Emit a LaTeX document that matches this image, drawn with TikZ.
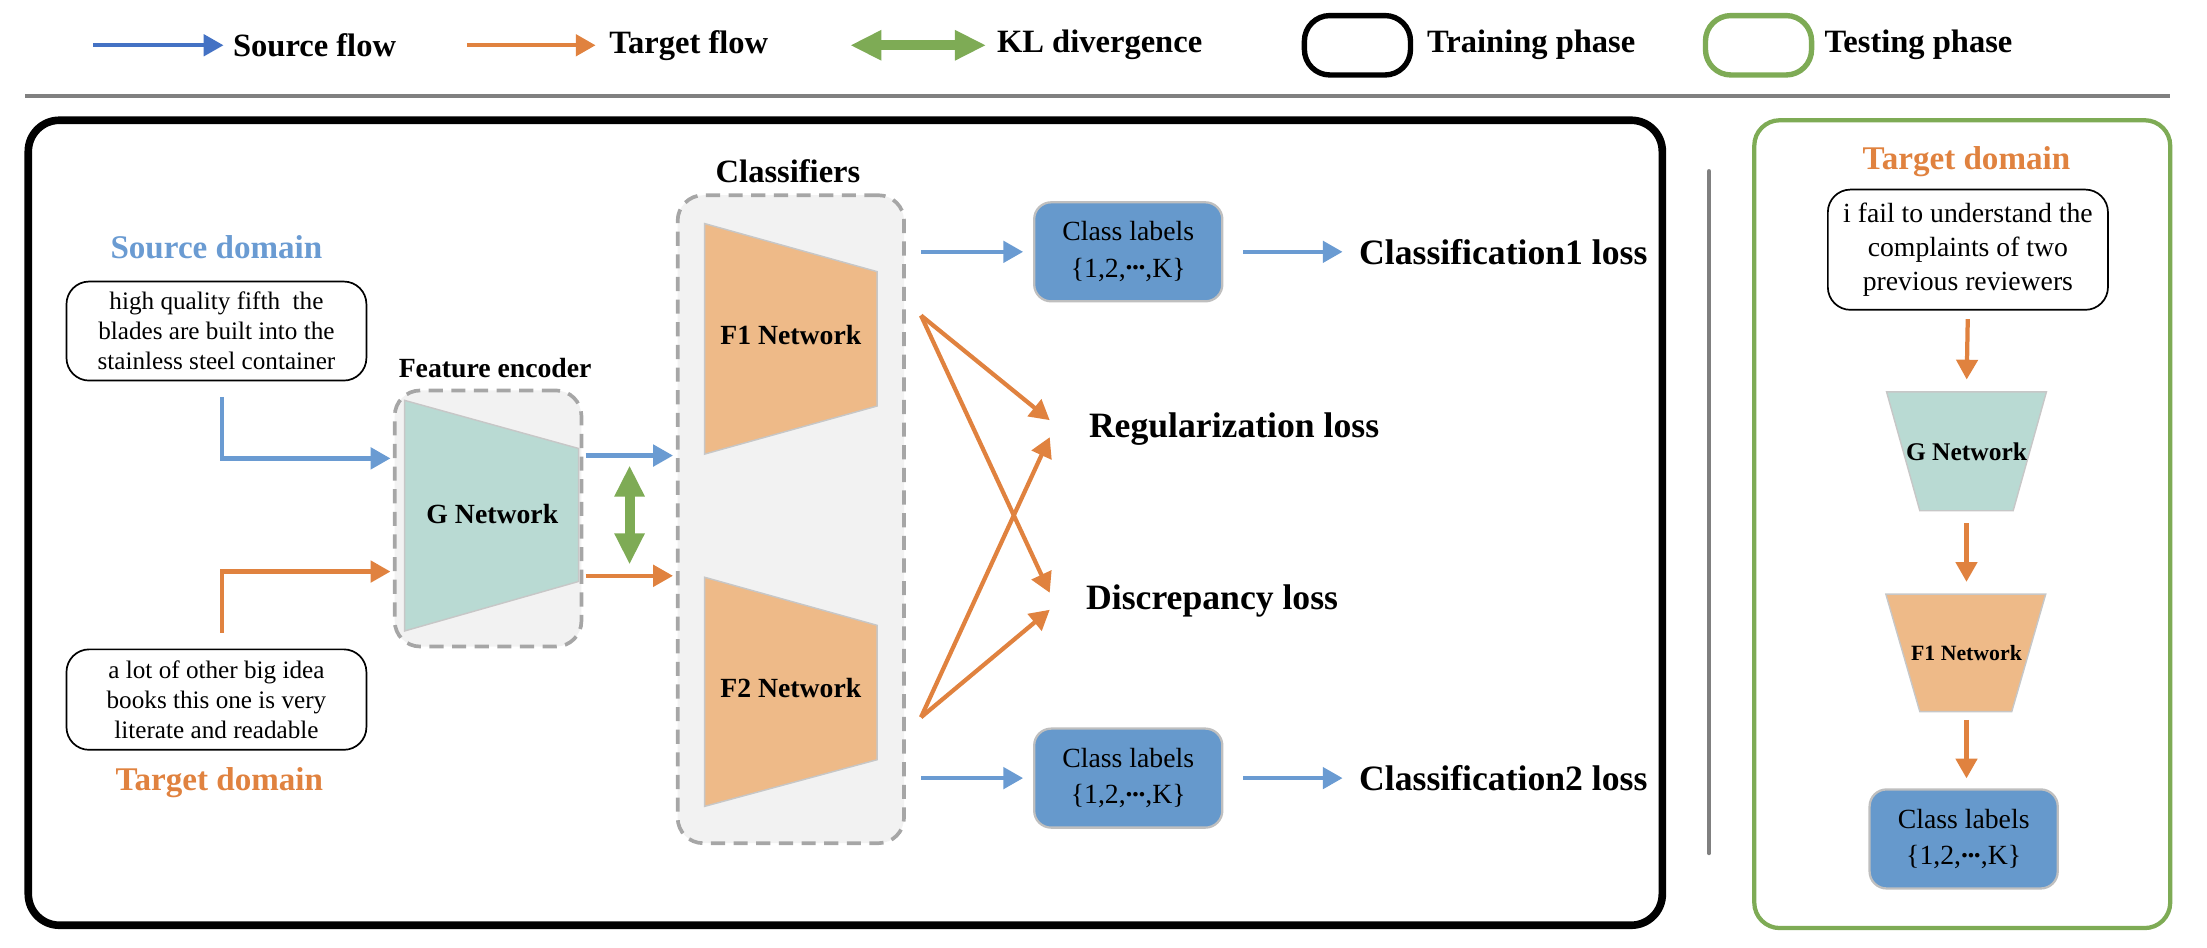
\documentclass[tikz,border=0pt]{standalone}
\usepackage{fontspec}
\setmainfont{Liberation Serif}
\usetikzlibrary{arrows.meta,positioning}

\definecolor{srcblue}{HTML}{6A9BD2}
\definecolor{legblue}{HTML}{4472C4}
\definecolor{tgtorange}{HTML}{E0823F}
\definecolor{klgreen}{HTML}{7EAB55}
\definecolor{gteal}{HTML}{B9DAD3}
\definecolor{fpeach}{HTML}{EEBA88}
\definecolor{labblue}{HTML}{6699CC}
\definecolor{encgray}{HTML}{F2F2F2}
\definecolor{dashgray}{HTML}{A6A6A6}

\newcommand{\labdots}{\raisebox{0.28em}{\bfseries .\kern-0.02em.\kern-0.02em.}}

\tikzset{every picture/.style={line width=0.75pt}}
\tikzset{
  srcflow/.style={srcblue, line width=1.5pt, -{Triangle[length=7pt,width=7.5pt]}},
  legsrc/.style={legblue, line width=1.4pt, -{Triangle[length=7pt,width=7.5pt]}},
  tgtflow/.style={tgtorange, line width=1.5pt, -{Triangle[length=7pt,width=7.5pt]}},
  klflow/.style={klgreen, line width=3.5pt, {Triangle[length=11pt,width=10pt]}-{Triangle[length=11pt,width=10pt]}},
  legtext/.style={font=\bfseries\fontsize{11.5}{13}\selectfont, anchor=west, inner sep=0pt},
  losstext/.style={font=\bfseries\fontsize{12.6}{14}\selectfont, anchor=west, inner sep=0pt},
  domtitle/.style={font=\bfseries\fontsize{11.7}{13}\selectfont, inner sep=0pt},
  grouptitle/.style={font=\bfseries\fontsize{9.8}{11}\selectfont, inner sep=0pt},
  netlab/.style={font=\bfseries\fontsize{9.8}{11}\selectfont, inner sep=0pt},
  textbox/.style={draw, rounded corners=8pt, line width=0.6pt, align=center, inner sep=0pt, font=\fontsize{8.9}{10.6}\selectfont},
  labbox/.style={draw=black!25, fill=labblue, rounded corners=6pt, line width=0.8pt, align=center, inner sep=0pt, minimum width=66.5pt, minimum height=35pt, font=\fontsize{9.8}{13}\selectfont},
  groupbox/.style={draw=dashgray, fill=encgray, rounded corners=9pt, line width=1.3pt, dash pattern=on 5pt off 3pt},
  netshape/.style={draw=black!22, line width=0.5pt},
  legbox/.style={rounded corners=9pt, line width=1.9pt, minimum width=37.5pt, minimum height=21pt, inner sep=0pt},
  sepline/.style={draw=gray, line width=1.5pt},
  trainframe/.style={draw=black, line width=2.7pt, rounded corners=11pt},
  testframe/.style={draw=klgreen, line width=1.5pt, rounded corners=9pt}
}

\begin{document}
\begin{tikzpicture}[x=0.5pt,y=0.5pt,yscale=-1,xscale=1]
%set diagram left start at 0, and has height of 669
\useasboundingbox (0,0) rectangle (1560,669.4);

%Legend: Source flow
\coordinate (legSrcA) at (66,32);
\node[legtext] (legSrc) at (164,32) {Source flow};
\draw[legsrc, shorten >=3pt] (legSrcA) -- (legSrc.west);
%Legend: Target flow
\coordinate (legTgtA) at (330,32);
\node[legtext] (legTgt) at (430,32) {Target flow};
\draw[tgtflow, shorten >=4.5pt] (legTgtA) -- (legTgt.west);
%Legend: KL divergence
\coordinate (legKLA) at (601,32);
\node[legtext] (legKL) at (704,32) {KL divergence};
\draw[klflow, shorten >=3.5pt] (legKLA) -- (legKL.west);
%Legend: Training phase
\node[legbox, draw=black] (legTrainBox) at (959.5,32) {};
\node[legtext] (legTrain) at (1008,32) {Training phase};
%Legend: Testing phase
\node[legbox, draw=klgreen] (legTestBox) at (1243,32) {};
\node[legtext] (legTest) at (1289,32) {Testing phase};

%Shape: separators and frames
\draw[sepline] (18,68) -- (1534,68);
\draw[trainframe] (20,85) rectangle (1175,654);
\draw[sepline, line cap=round] (1208,121) -- (1208,603);
\draw[testframe] (1240,85) rectangle (1534,656);

%%% Training phase
% Text Node
\node[domtitle, text=srcblue] (srcTitle) at (153,175) {Source domain};
\node[textbox, minimum width=106pt, minimum height=35pt] (srcBox) at (153,234) {high quality fifth \ the\\blades are built into the\\stainless steel container};
\node[textbox, minimum width=106pt, minimum height=35.5pt] (tgtBox) at (153,494.5) {a lot of other big idea\\books this one is very\\literate and readable};
\node[domtitle, text=tgtorange] (tgtTitle) at (155,553) {Target domain};

%Shape: Feature encoder
\node[grouptitle] (encTitle) at (350,260) {Feature encoder};
\node[groupbox, minimum width=66pt, minimum height=90.5pt] (enc) at (345,366.5) {};
\draw[netshape, fill=gteal] (286,283) -- (409,317) -- (409,411) -- (286,446) -- cycle;
\node[netlab] (gNet) at (348,363) {G Network};

%Shape: Classifiers
\node[grouptitle, font=\bfseries\fontsize{11.5}{13}\selectfont] (clsTitle) at (557,121) {Classifiers};
\node[groupbox, minimum width=80pt, minimum height=229pt] (cls) at (559,367) {};
\draw[netshape, fill=fpeach] (498,158) -- (620,192) -- (620,287) -- (498,321) -- cycle;
\node[netlab] (fOne) at (559,237) {F1 Network};
\draw[netshape, fill=fpeach] (498,408) -- (620,442) -- (620,537) -- (498,570) -- cycle;
\node[netlab] (fTwo) at (559,486) {F2 Network};

%Inputs to encoder
\coordinate (encInS) at (276,324);
\coordinate (encInT) at (276,404);
\draw[srcflow] ([xshift=2pt,yshift=5.5pt]srcBox.south) |- (encInS);
\draw[tgtflow] ([xshift=2pt,yshift=-5.5pt]tgtBox.north) |- (encInT);

%Encoder to classifiers
\coordinate (gOutS) at (414,322);
\coordinate (gOutT) at (414,407);
\draw[srcflow, shorten >=1pt] (gOutS) -- (gOutS -| cls.west);
\draw[tgtflow, shorten >=1pt] (gOutT) -- (gOutT -| cls.west);
\coordinate (klTop) at (445,329);
\coordinate (klBot) at (445,399);
\draw[klflow] (klTop) -- (klBot);

%Class labels and losses
\node[labbox] (labOne) at (797.5,178) {Class labels\\\{1,2,\labdots,K\}};
\node[labbox] (labTwo) at (797.5,550) {Class labels\\\{1,2,\labdots,K\}};
\node[losstext] (lossOne) at (960,178) {Classification1 loss};
\node[losstext] (lossTwo) at (960,550) {Classification2 loss};
\node[losstext] (regLoss) at (769,303) {Regularization loss};
\node[losstext] (disLoss) at (767,425) {Discrepancy loss};
\draw[srcflow, shorten <=5.5pt, shorten >=3.5pt] (cls.east |- labOne.west) -- (labOne.west);
\draw[srcflow, shorten <=5.5pt, shorten >=3.5pt] (cls.east |- labTwo.west) -- (labTwo.west);
\draw[srcflow, shorten <=7pt, shorten >=5.5pt] (labOne.east) -- (lossOne.west);
\draw[srcflow, shorten <=7pt, shorten >=5.5pt] (labTwo.east) -- (lossTwo.west);

%Classifier outputs to losses
\coordinate (fOneOut) at (651,223);
\coordinate (fTwoOut) at (651,507);
\coordinate (regInA) at (742,297);
\coordinate (regInB) at (742,309);
\coordinate (disInA) at (742,419);
\coordinate (disInB) at (742,431);
\draw[tgtflow] (fOneOut) -- (regInA);
\draw[tgtflow] (fOneOut) -- (disInA);
\draw[tgtflow] (fTwoOut) -- (regInB);
\draw[tgtflow] (fTwoOut) -- (disInB);

%%% Testing phase
\node[domtitle, text=tgtorange] (testTitle) at (1390,114) {Target domain};
\node[textbox, minimum width=99pt, minimum height=42.5pt, font=\fontsize{9.8}{12}\selectfont] (testBox) at (1391,176.5) {i fail to understand the\\complaints of two\\previous reviewers};
\draw[netshape, fill=gteal] (1333.5,277) -- (1446.5,277) -- (1423,361) -- (1357,361) -- cycle;
\node[netlab, minimum height=42pt, font=\bfseries\fontsize{9}{11}\selectfont] (gTest) at (1390,319) {G Network};
\draw[netshape, fill=fpeach] (1333,420) -- (1446,420) -- (1422,503) -- (1357,503) -- cycle;
\node[netlab, minimum height=41.5pt, font=\bfseries\fontsize{7.7}{9}\selectfont] (fTest) at (1390,461.5) {F1 Network};
\node[labbox] (labTest) at (1388,593) {Class labels\\\{1,2,\labdots,K\}};
\draw[tgtflow, shorten <=3pt, shorten >=4pt] (testBox.south) -- (gTest.north);
\draw[tgtflow, shorten <=4pt, shorten >=4pt] (gTest.south) -- (fTest.north);
\draw[tgtflow, shorten <=2.5pt, shorten >=3.5pt] (fTest.south) -- (labTest.north -| fTest.south);

\end{tikzpicture}
\end{document}
